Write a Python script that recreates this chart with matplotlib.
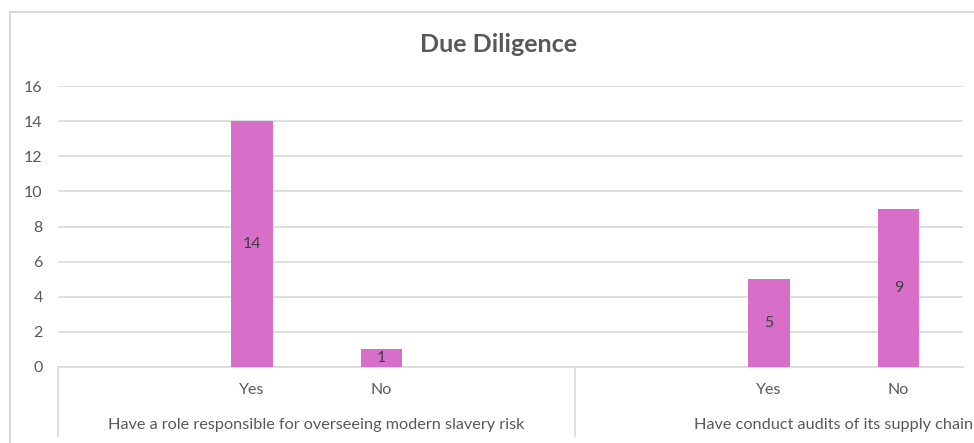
import matplotlib
matplotlib.use('Agg')
import matplotlib.pyplot as plt
from matplotlib.lines import Line2D

plt.rcParams['font.family'] = ['Lato', 'DejaVu Sans']

group_labels = ['Have a role responsible for overseeing modern slavery risk',
                'Have conduct audits of its supply chain']
answer_labels = ['Yes', 'No']
role_counts = [14, 1]
audit_counts = [5, 9]
y_ticks = [0, 2, 4, 6, 8, 10, 12, 14, 16]

bar_color = '#D76FC9'
text_grey = '#595959'
line_grey = '#D9D9D9'

fig = plt.figure(figsize=(9.74, 4.43), dpi=100)
ax = fig.add_axes([58 / 974, 76 / 443, 905 / 974, 281 / 443])

# each group takes 4 slots on the category axis, answers sit at slots 1 and 2
slots_per_group = 4
positions, values, labels = [], [], []
for g, counts in enumerate([role_counts, audit_counts]):
    for i, (ans, v) in enumerate(zip(answer_labels, counts)):
        positions.append(g * slots_per_group + 1 + i)
        values.append(v)
        labels.append(ans)

bars = ax.bar(positions, values, width=0.32, color=bar_color, zorder=3)
ax.bar_label(bars, label_type='center', color='#404040', fontsize=11.5)

ax.set_xlim(-0.5, 6.5)
ax.set_ylim(0, 16)
ax.set_yticks(y_ticks)
ax.tick_params(axis='y', length=0, labelsize=11.5, labelcolor=text_grey, pad=11)
ax.yaxis.grid(True, color=line_grey, linewidth=1.2, zorder=0)
ax.set_xticks([])
for s in ['top', 'right', 'left']:
    ax.spines[s].set_visible(False)
ax.spines['bottom'].set_color(line_grey)
ax.spines['bottom'].set_linewidth(1.2)

xt = ax.get_xaxis_transform()
ah = 281.0
for p, lab in zip(positions, labels):
    ax.text(p, -23 / ah, lab, transform=xt, ha='center', va='center',
            fontsize=11.5, color=text_grey, clip_on=False)
for g, glab in enumerate(group_labels):
    centre = g * slots_per_group + 1.5
    ax.text(centre, -58 / ah, glab, transform=xt, ha='center', va='center',
            fontsize=11.7, color=text_grey, clip_on=False)
for xs in [-0.5, 3.5]:
    ax.add_line(Line2D([xs, xs], [0, -69 / ah], transform=xt, color=line_grey,
                       linewidth=1.2, clip_on=False))

fig.text(498 / 974, 1 - 44 / 443, 'Due Diligence', ha='center', va='center',
         fontsize=18, fontweight='bold', color=text_grey)

# chart border (cropped on the right and bottom)
fig.add_artist(Line2D([10 / 974, 1], [1 - 12 / 443, 1 - 12 / 443], color=line_grey, linewidth=1.5))
fig.add_artist(Line2D([10 / 974, 10 / 974], [0, 1 - 12 / 443], color=line_grey, linewidth=1.5))

fig.savefig('out.png', dpi=100)
